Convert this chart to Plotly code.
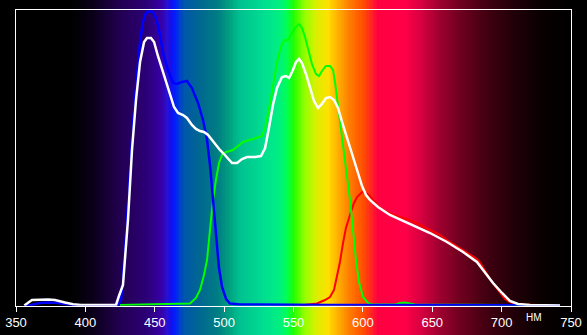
import numpy as np
import plotly.graph_objects as go

# ---------------- data (wavelength nm, relative intensity %) ----------------
white_nm = [356.0, 359.0, 361.5, 373.1, 378.1, 385.3, 391.1, 396.8, 422.1, 424.2, 427.1, 430.7,
            433.6, 436.5, 439.4, 442.3, 444.4, 447.3, 449.5, 452.3, 456.0, 458.8, 461.7, 463.9,
            466.8, 470.4, 473.2, 476.8, 479.7, 482.6, 485.5, 488.4, 491.3, 494.1, 497.0, 499.9,
            502.8, 505.7, 509.3, 512.9, 516.5, 522.3, 526.6, 529.5, 532.3, 535.2, 538.1, 541.7,
            544.6, 546.8, 549.6, 551.8, 554.0, 556.1, 559.0, 561.9, 564.8, 567.7, 570.5, 573.4,
            576.3, 579.2, 582.1, 585.0, 587.8, 590.7, 593.6, 596.5, 599.4, 602.3, 605.1, 610.9,
            619.5, 631.8, 648.4, 660.6, 672.2, 682.2, 688.0, 693.8, 700.3, 706.0, 711.8, 720.4,
            742.1]
white_val = [0.1, 1.25, 1.92, 2.09, 1.92, 1.08, 0.47, 0.24, 0.24, 3.27, 6.99, 28.93,
             52.57, 69.45, 82.27, 89.03, 90.38, 90.38, 89.03, 84.30, 78.90, 74.85, 70.46, 67.08,
             65.06, 64.38, 63.37, 61.01, 59.66, 58.98, 58.64, 57.63, 55.94, 54.25, 52.57, 51.22,
             49.53, 48.18, 48.18, 49.53, 50.20, 50.20, 50.54, 53.24, 59.99, 67.76, 73.50, 77.21,
             77.55, 76.87, 79.57, 82.27, 83.29, 81.94, 78.22, 73.50, 69.11, 66.75, 68.10, 70.12,
             70.46, 69.45, 66.75, 62.02, 57.63, 53.58, 49.19, 44.80, 40.41, 37.37, 35.69, 33.32,
             30.62, 27.92, 24.54, 21.51, 18.13, 14.75, 11.04, 7.66, 4.29, 1.59, 0.57, 0.24,
             0.1]

blue_nm = [356.0, 360.8, 367.3, 373.1, 380.3, 390.4, 423.5, 425.7, 428.6, 431.4, 434.3, 437.2,
           439.4, 441.5, 443.7, 446.6, 448.7, 450.9, 453.1, 456.0, 459.5, 463.2, 466.0, 469.6,
           473.2, 476.8, 481.2, 484.8, 487.7, 489.8, 492.0, 494.1, 496.3, 498.5, 501.4, 504.2,
           511.4, 576.3, 742.1]
blue_val = [0.1, 0.24, 0.91, 1.08, 0.91, 0.24, 0.1, 1.92, 18.80, 40.75, 61.01, 77.89,
            89.03, 95.78, 98.82, 99.49, 99.16, 97.13, 93.08, 85.31, 79.57, 75.19, 74.85, 75.52,
            75.86, 73.50, 68.43, 62.69, 55.94, 47.50, 35.69, 22.18, 12.73, 6.31, 2.26, 0.74,
            0.41, 0.24, 0.1]

green_nm = [425.0, 475.4, 479.7, 482.6, 485.5, 487.7, 489.8, 492.0, 494.1, 496.3, 498.5, 501.4,
            506.4, 510.0, 513.6, 520.8, 527.3, 529.5, 531.6, 533.8, 536.0, 538.8, 541.7, 543.9,
            546.0, 548.2, 551.1, 554.0, 556.1, 558.3, 560.5, 563.3, 566.2, 568.4, 570.5, 573.4,
            576.3, 578.5, 579.9, 582.1, 584.2, 586.4, 588.6, 590.7, 592.9, 595.0, 597.2, 600.1,
            603.7, 606.6, 623.2, 626.8, 630.4, 634.0, 637.6, 742.1]
green_val = [0.24, 0.74, 2.60, 5.30, 10.36, 15.43, 25.56, 35.69, 42.44, 48.18, 50.88, 51.89,
             52.57, 53.92, 55.27, 56.28, 57.29, 59.99, 64.38, 70.12, 76.20, 83.63, 88.35, 89.70,
             89.70, 91.39, 93.75, 95.10, 93.75, 90.72, 86.33, 81.60, 78.22, 77.55, 79.24, 80.93,
             80.93, 79.57, 75.52, 67.76, 59.32, 52.57, 44.80, 35.69, 25.56, 15.43, 8.00, 2.94,
             0.91, 0.41, 0.41, 0.91, 1.08, 0.74, 0.41, 0.1]

red_nm = [554.7, 566.9, 572.7, 576.3, 579.2, 581.3, 583.5, 585.7, 587.8, 590.7, 593.6, 595.8,
          599.4, 602.3, 605.1, 608.7, 612.3, 617.4, 621.7, 626.8, 634.0, 641.2, 648.4, 655.6,
          660.6, 666.4, 672.2, 677.2, 682.2, 685.1, 688.0, 691.6, 695.2, 698.8, 702.4, 706.0,
          711.8, 742.1]
red_val = [0.1, 0.74, 1.92, 2.94, 5.30, 9.69, 14.75, 21.17, 26.23, 30.62, 34.67, 36.70,
           38.39, 38.05, 37.04, 35.01, 32.98, 31.63, 30.62, 29.95, 28.93, 27.25, 25.56, 23.87,
           22.18, 20.49, 18.80, 17.45, 15.77, 14.08, 11.72, 9.01, 6.65, 4.29, 2.26, 1.25,
           0.41, 0.1]

# background spectrum colour stops
spectrum_nm = [350, 390, 405, 425, 445, 455, 459, 462, 465, 468, 472, 483, 495, 504, 511, 530,
               540, 546, 550, 558, 566, 575, 582, 590, 600, 606, 611, 630, 642, 655, 670, 690,
               710, 730, 750]
spectrum_col = ["#000000", "#000000", "#0a0018", "#220050", "#2c0078", "#3800a8", "#2a10d0",
                "#1010f0", "#0020ff", "#0040d0", "#0058a8", "#006890", "#007c84", "#00a080",
                "#00c090", "#00e090", "#00f080", "#00ff50", "#20ff00", "#90ff00", "#d8f000",
                "#ffe000", "#ffb000", "#ff8000", "#ff5000", "#ff2820", "#ff0040", "#ff0048",
                "#d80040", "#a00030", "#700020", "#400010", "#200008", "#080000", "#000000"]

tick_vals = [350, 400, 450, 500, 550, 600, 650, 700, 750]
unit_label = "НМ"

# ---------------- figure ----------------
W, H = 587, 335
x_dom = [16 / W, 571 / W]
y_dom = [(H - 305.7) / H, (H - 9.5) / H]

bg_x = np.arange(350, 751)
colorscale = [[(n - 350) / 400, c] for n, c in zip(spectrum_nm, spectrum_col)]

fig = go.Figure()
fig.add_trace(go.Heatmap(x=bg_x, y=[0, 1], z=[bg_x, bg_x], colorscale=colorscale,
                         zmin=350, zmax=750, showscale=False, hoverinfo="skip",
                         xaxis="x", yaxis="y"))

for nm, val, col, w in [(red_nm, red_val, "#ff0000", 2),
                        (green_nm, green_val, "#00ff00", 2),
                        (blue_nm, blue_val, "#0000ff", 2.5),
                        (white_nm, white_val, "#ffffff", 2.5)]:
    fig.add_trace(go.Scatter(x=nm, y=val, mode="lines", line=dict(color=col, width=w),
                             xaxis="x2", yaxis="y2", showlegend=False, hoverinfo="skip"))

fig.add_annotation(text=unit_label, x=723.3, y=(H - 317) / H, xref="x2", yref="paper",
                   xanchor="center", yanchor="middle", showarrow=False,
                   font=dict(color="white", size=10, family="Liberation Sans, Arial, sans-serif"))

fig.update_layout(
    width=W, height=H, margin=dict(l=0, r=0, t=0, b=0, autoexpand=False),
    paper_bgcolor="black", plot_bgcolor="rgba(0,0,0,0)", showlegend=False,
    xaxis=dict(domain=x_dom, range=[350, 750], visible=False, anchor="y", automargin=False),
    yaxis=dict(domain=[0, 1], range=[0, 1], visible=False, anchor="x", automargin=False),
    xaxis2=dict(domain=x_dom, range=[350, 750], anchor="y2", tickvals=tick_vals,
                ticks="outside", ticklen=5, tickcolor="white", tickwidth=1,
                showline=True, linecolor="white", linewidth=1, mirror=True,
                showgrid=False, zeroline=False, automargin=False,
                tickfont=dict(color="white", size=13,
                              family="Liberation Sans Narrow, Liberation Sans, Arial, sans-serif")),
    yaxis2=dict(domain=y_dom, range=[0, 100], anchor="x2", showline=True, linecolor="white",
                linewidth=1, mirror=True, showgrid=False, zeroline=False, automargin=False,
                showticklabels=False, ticks=""),
)

fig.write_html("out.html")
